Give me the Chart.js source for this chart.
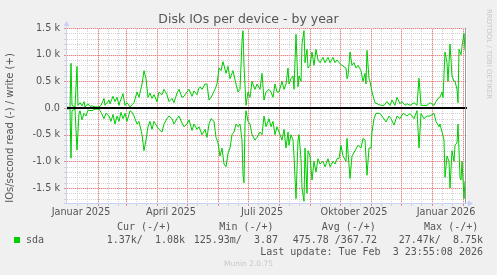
<!DOCTYPE html>
<html>
<head>
<meta charset="utf-8">
<script src="https://cdn.jsdelivr.net/npm/chart.js@4.4.1/dist/chart.umd.min.js"></script>
<style>
  body { margin: 0; background: #f0f0f0; width: 497px; height: 275px; overflow: hidden; position: relative;
         font-family: 'DejaVu Sans', sans-serif; color: #555; }
  #chart { position: absolute; left: 0; top: 0; }
  .t { position: absolute; white-space: pre; line-height: 12px; height: 12px; }
  .mono { font-family: 'DejaVu Sans Mono', monospace; font-size: 10px; color: #555; }
</style>
</head>
<body>
<canvas id="chart" width="497" height="275"></canvas>

<div class="t" style="left:0;width:497px;text-align:center;top:12px;font-size:12.5px;line-height:14px;height:14px">Disk IOs per device - by year</div>
<div class="t" style="left:-90px;top:122px;width:200px;text-align:center;font-size:10px;transform:rotate(-90deg)">IOs/second read (-) / write (+)</div>
<div class="t" style="left:429px;top:48px;width:120px;text-align:center;font-size:7px;color:#c8c8c8;transform:rotate(90deg)">RRDTOOL / TOBI OETIKER</div>

<div class="t mono" style="left:117px;top:221px">Cur (-/+)        Min (-/+)        Avg (-/+)        Max (-/+)</div>
<div style="position:absolute;left:14px;top:237px;width:6px;height:6px;background:#00cc00"></div>
<div class="t mono" style="left:26px;top:234px">sda</div>
<div class="t mono" style="right:312px;top:234px">1.37k/  1.08k</div>
<div class="t mono" style="right:219px;top:234px">125.93m/  3.87</div>
<div class="t mono" style="right:120px;top:234px">475.78 /367.72</div>
<div class="t mono" style="right:14px;top:234px">27.47k/  8.75k</div>
<div class="t mono" style="right:14px;top:246px">Last update: Tue Feb  3 23:55:08 2026</div>
<div class="t" style="left:0;width:497px;text-align:center;top:258px;font-size:7.5px;color:#c8c8c8">Munin 2.0.75</div>

<script>
// day 0 = 1 January 2025, one sample every few days
const writeDays = [0, 3, 4, 5, 8, 10, 11, 13, 15, 17, 18, 21, 23, 25, 28, 32, 34, 37, 38, 42, 43, 46, 48, 50, 52, 53, 56, 58, 60, 63, 65,
  67, 70, 72, 75, 77, 79, 81, 83, 85, 87, 90, 92, 95, 97, 100, 102, 105, 107, 110, 112, 115, 117, 120, 122, 125, 127, 130, 132,
  133, 135, 138, 140, 142, 144, 148, 150, 152, 154, 156, 159, 161, 163, 166, 169, 171, 173, 175, 176, 177, 179, 181, 183, 185,
  188, 190, 193, 195, 197, 199, 202, 204, 206, 208, 210, 212, 215, 217, 219, 221, 222, 224, 226, 227, 229, 231, 232, 234, 235,
  237, 238, 240, 241, 243, 245, 247, 249, 251, 253, 256, 258, 261, 263, 266, 268, 270, 272, 275, 279, 280, 281, 283, 285, 287,
  289, 291, 294, 296, 298, 299, 300, 302, 303, 305, 308, 310, 314, 317, 320, 323, 325, 328, 330, 333, 335, 338, 340, 343, 347,
  350, 352, 354, 357, 360, 363, 367, 369, 372, 373, 375, 376, 378, 380, 381, 383, 385, 387, 388, 390, 391, 392, 394, 395, 397, 398];
const writeIOs = [20, 10, 840, 50, 20, 780, 50, 100, 40, 120, 20, 80, 30, 40, 20, 20, 50, 180, 50, 150, 80, 220, 120, 200, 50, 120, 270, 50, 100, 20, 60,
  100, 300, 200, 450, 700, 550, 200, 280, 180, 250, 120, 300, 250, 350, 250, 120, 180, 100, 280, 350, 200, 220, 300, 350, 220, 320, 250, 380,
  400, 350, 450, 450, 150, 200, 350, 450, 750, 700, 870, 650, 780, 550, 700, 450, 300, 350, 1250, 1450, 800, 50, 300, 200, 500,
  350, 450, 350, 650, 150, 300, 350, 300, 200, 450, 300, 300, 500, 350, 450, 750, 450, 550, 600, 350, 1380, 400, 600, 500, 1200,
  1450, 850, 1100, 750, 800, 1050, 800, 1100, 900, 850, 950, 850, 950, 850, 950, 850, 900, 850, 800, 750, 550, 600, 1050, 800, 850,
  750, 800, 700, 500, 650, 450, 1080, 550, 500, 300, 100, 80, 50, 50, 120, 50, 150, 50, 200, 80, 120, 50, 80, 50, 100,
  50, 560, 50, 50, 50, 100, 50, 120, 200, 200, 300, 200, 1050, 850, 500, 1200, 600, 500, 500, 350, 100, 1100, 1000, 1150, 1400, 1080];

const readDays = [0, 3, 4, 5, 8, 10, 12, 13, 15, 17, 19, 21, 25, 28, 32, 34, 37, 39, 42, 44, 46, 48, 50, 52, 54, 56, 58, 60, 63, 65,
  67, 70, 72, 75, 77, 79, 81, 83, 85, 87, 90, 92, 95, 97, 100, 102, 105, 107, 110, 112, 115, 117, 120, 122, 125, 127, 130, 132,
  135, 138, 140, 142, 144, 147, 149, 151, 153, 155, 157, 159, 161, 163, 165, 167, 169, 171, 173, 175, 176, 177, 178, 179, 181,
  183, 185, 188, 190, 193, 195, 197, 199, 202, 204, 206, 208, 210, 212, 215, 217, 219, 221, 222, 224, 226, 227, 229, 231, 232,
  234, 235, 237, 238, 240, 241, 243, 245, 247, 249, 251, 253, 256, 258, 261, 263, 266, 268, 270, 272, 274, 276, 279, 280, 283,
  285, 288, 291, 294, 296, 298, 300, 302, 304, 305, 307, 309, 313, 315, 319, 322, 324, 327, 330, 333, 336, 338, 340, 343, 347,
  350, 352, 354, 357, 360, 363, 367, 369, 372, 373, 375, 377, 378, 380, 382, 383, 385, 387, 388, 390, 391, 393, 394, 395, 397, 398];
const readIOs = [20, 10, 940, 50, 20, 790, 100, 50, 220, 100, 150, 40, 50, 20, 20, 80, 200, 100, 150, 250, 120, 300, 150, 250, 80, 200, 100, 250, 50, 80,
  150, 300, 250, 500, 800, 600, 350, 250, 400, 250, 350, 400, 450, 300, 200, 150, 200, 300, 200, 150, 280, 350, 300, 220, 420, 300, 400, 350,
  500, 400, 550, 300, 200, 250, 550, 650, 900, 750, 1050, 1100, 850, 750, 500, 450, 300, 350, 300, 600, 1250, 1400, 300, 50, 250,
  300, 500, 600, 550, 450, 500, 150, 350, 200, 350, 250, 500, 350, 450, 600, 400, 750, 450, 700, 500, 600, 900, 1700, 600, 500,
  950, 1500, 1750, 750, 1600, 800, 900, 1350, 1000, 1200, 950, 1050, 1000, 1100, 950, 1100, 1000, 1050, 950, 950, 700, 900, 1000, 570, 1320,
  900, 800, 700, 750, 570, 600, 1260, 750, 750, 450, 200, 100, 100, 150, 260, 150, 200, 320, 150, 200, 100, 120, 150, 100, 200,
  50, 750, 100, 200, 150, 150, 100, 250, 350, 300, 450, 600, 1300, 900, 1000, 1500, 800, 1000, 700, 650, 300, 1300, 1350, 1000, 1700, 1370];

const monthStartDays = [31, 59, 90, 120, 151, 181, 212, 243, 273, 304, 334, 365, 396];
const xLabelDays = [14, 104, 195, 287, 379];
const xLabels = ['Januar 2025', 'April 2025', 'Juli 2025', 'Oktober 2025', 'Januar 2026'];
const yLabelValues = [-1500, -1000, -500, 0, 500, 1000, 1500];
const yLabels = ['-1.5 k', '-1.0 k', '-0.5 k', '0.0', '0.5 k', '1.0 k', '1.5 k'];

const GREEN = '#00cc00';
const MAJOR = '#e48888';
const MAJOR_TINT = '#f5d0d0';
const MINOR = '#d2d2d2';
const AXIS = '#c8d0f4';
const FONT = { family: 'DejaVu Sans', size: 9.7 };

const minorDays = [0].concat(monthStartDays).flatMap((d) => [d + 10, d + 20]).filter((d) => d < 400);
const minorValues = [];
for (let v = -1700; v <= 1500; v += 100) minorValues.push(v);

// dotted rules are drawn dot by dot so they stay crisp; major rules get a faint tint under the dots
function dottedH(ctx, x1, x2, y, color, tint) {
  if (tint) {
    ctx.fillStyle = tint;
    ctx.fillRect(x1, y, x2 - x1, 1);
  }
  ctx.fillStyle = color;
  for (let x = x1; x < x2; x += 2) ctx.fillRect(x, y, 1, 1);
  ctx.fillRect(x1 - 3, y, 2, 1);
}

function dottedV(ctx, x, y1, y2, color, tint) {
  if (tint) {
    ctx.fillStyle = tint;
    ctx.fillRect(x, y1, 1, y2 - y1);
  }
  ctx.fillStyle = color;
  for (let y = y2; y > y1; y -= 2) ctx.fillRect(x, y, 1, 1);
  ctx.fillRect(x, y2 + 1, 1, 2);
}

const framePlugin = {
  id: 'frame',
  beforeDraw(chart) {
    const { ctx, chartArea: a } = chart;
    ctx.save();
    ctx.fillStyle = '#ffffff';
    ctx.fillRect(a.left, a.top, a.right - a.left, a.bottom - a.top);
    ctx.restore();
  },
  beforeDatasetsDraw(chart) {
    const { ctx, chartArea: a, scales } = chart;
    const left = Math.round(a.left);
    const right = Math.round(a.right);
    const top = Math.round(a.top);
    const bottom = Math.round(a.bottom);
    ctx.save();
    minorValues.filter((v) => v % 500 !== 0).forEach((v) => {
      dottedH(ctx, left, right, Math.round(scales.y.getPixelForValue(v)), MINOR);
    });
    minorDays.forEach((d) => dottedV(ctx, Math.round(scales.x.getPixelForValue(d)), top, bottom, MINOR));
    minorValues.filter((v) => v % 500 === 0).forEach((v) => {
      dottedH(ctx, left, right, Math.round(scales.y.getPixelForValue(v)), MAJOR, MAJOR_TINT);
    });
    monthStartDays.forEach((d) => dottedV(ctx, Math.round(scales.x.getPixelForValue(d)), top, bottom, MAJOR, MAJOR_TINT));
    ctx.restore();
  },
  afterDatasetsDraw(chart) {
    const { ctx, chartArea: a, scales } = chart;
    ctx.save();
    // zero rule
    const y0 = Math.round(scales.y.getPixelForValue(0));
    ctx.fillStyle = '#000000';
    ctx.fillRect(a.left, y0 - 1, a.right - a.left, 2);
    // end of data
    const xe = Math.round(scales.x.getPixelForValue(writeDays[writeDays.length - 1]));
    ctx.fillStyle = '#999999';
    ctx.fillRect(xe, a.top, 1, a.bottom - a.top);
    // axes with arrows
    ctx.fillStyle = AXIS;
    const left = Math.round(a.left) - 1;
    const bottom = Math.round(a.bottom);
    ctx.fillRect(left, a.top - 3, 1, bottom - a.top + 4);
    ctx.fillRect(left - 2, bottom, a.right - left + 4, 1);
    ctx.beginPath();
    ctx.moveTo(left - 2.5, a.top - 2);
    ctx.lineTo(left + 3.5, a.top - 2);
    ctx.lineTo(left + 0.5, a.top - 7);
    ctx.closePath();
    ctx.fill();
    ctx.beginPath();
    ctx.moveTo(a.right + 1, bottom - 2.5);
    ctx.lineTo(a.right + 1, bottom + 3.5);
    ctx.lineTo(a.right + 6, bottom + 0.5);
    ctx.closePath();
    ctx.fill();
    ctx.restore();
  }
};

new Chart(document.getElementById('chart'), {
  type: 'line',
  data: {
    datasets: [
      {
        label: 'write',
        data: writeDays.map((d, i) => ({ x: d, y: writeIOs[i] })),
        borderColor: GREEN,
        borderWidth: 1,
        pointRadius: 0,
        tension: 0,
        fill: false
      },
      {
        label: 'read',
        data: readDays.map((d, i) => ({ x: d, y: -readIOs[i] })),
        borderColor: GREEN,
        borderWidth: 1,
        pointRadius: 0,
        tension: 0,
        fill: false
      }
    ]
  },
  options: {
    responsive: false,
    animation: false,
    devicePixelRatio: 1,
    layout: { padding: { left: 0, top: 28, right: 30, bottom: 0 } },
    plugins: { legend: { display: false }, tooltip: { enabled: false }, title: { display: false } },
    scales: {
      x: {
        type: 'linear',
        min: 0,
        max: 400,
        afterFit: (scale) => { scale.height = 72; },
        afterBuildTicks: (scale) => {
          scale.ticks = xLabelDays.map((v) => ({ value: v }));
        },
        border: { display: false },
        grid: { display: false, drawTicks: false },
        ticks: {
          autoSkip: false,
          maxRotation: 0,
          padding: 4,
          color: '#555',
          font: FONT,
          callback: (value) => xLabels[xLabelDays.indexOf(value)]
        }
      },
      y: {
        type: 'linear',
        min: -1780,
        max: 1500,
        afterFit: (scale) => { scale.width = 67; },
        afterBuildTicks: (scale) => {
          scale.ticks = yLabelValues.map((v) => ({ value: v }));
        },
        border: { display: false },
        grid: { display: false, drawTicks: false },
        ticks: {
          autoSkip: false,
          padding: 7,
          color: '#555',
          font: FONT,
          callback: (value) => yLabels[yLabelValues.indexOf(value)]
        }
      }
    }
  },
  plugins: [framePlugin]
});
</script>
</body>
</html>
